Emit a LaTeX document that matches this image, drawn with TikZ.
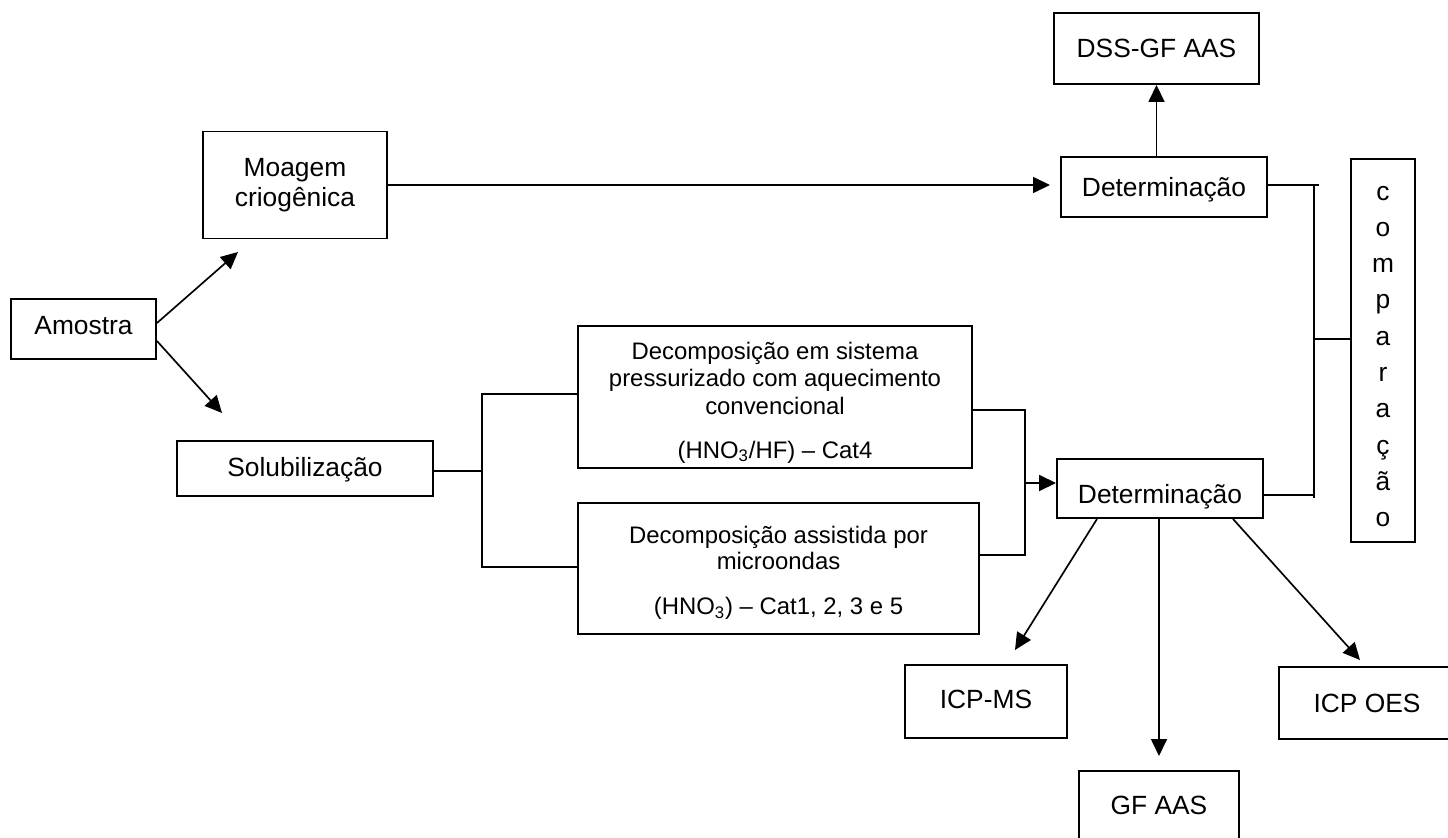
\documentclass[tikz,border=0pt]{standalone}
\usepackage{fontspec}
\setmainfont{Liberation Sans}
\usetikzlibrary{arrows.meta,calc}
\def\pxu{0.02cm}
\tikzset{
  frame/.style={draw, line width=1.1pt, inner sep=0pt},
  lbl/.style={frame, font=\fontsize{15}{17.1}\selectfont, text height=10.74pt, text depth=0pt},
  small/.style={inner sep=0pt, align=center},
  arr/.style={-{Triangle[length=0.34cm,width=0.32cm]}},
  wire/.style={line width=0.95pt}
}
\begin{document}
\begin{tikzpicture}[x=0.02cm, y=-0.02cm, wire]
\useasboundingbox (0,0) rectangle (1448,838);
\clip (0,0) rectangle (1448,838);

% boxes
\node[lbl, minimum width=145*\pxu, minimum height=60*\pxu, text depth=7*\pxu] (amostra) at (83.5,329) {Amostra};
\node[frame, font=\fontsize{15}{17.1}\selectfont, align=center, minimum width=184*\pxu, minimum height=107*\pxu] (moagem) at (295,185) {Moagem\\criogênica};
\node[lbl, minimum width=256*\pxu, minimum height=55*\pxu, text depth=3*\pxu] (sol) at (305,468.5) {Solubilização};

\node[frame, minimum width=394*\pxu, minimum height=142*\pxu] (d1) at (775,397) {};
\node[small, font=\fontsize{13.6}{15.65}\selectfont] (d1t) at (775,402.5)
  {Decomposição em sistema\\pressurizado com aquecimento\\convencional\\[9.4pt](HNO\textsubscript{3}/HF) – Cat4};
\node[frame, minimum width=401*\pxu, minimum height=131*\pxu] (d2) at (778.5,568.5) {};
\node[small, font=\fontsize{13.6}{14.8}\selectfont] (d2t) at (778.5,573)
  {Decomposição assistida por\\microondas\\[10.8pt](HNO\textsubscript{3}) – Cat1, 2, 3 e 5};

\node[lbl, minimum width=206*\pxu, minimum height=60*\pxu] (det1) at (1164,187) {Determinação};
\node[lbl, minimum width=205*\pxu, minimum height=71*\pxu] (dss) at (1156.5,48.5) {DSS-GF AAS};
\node[lbl, minimum width=206*\pxu, minimum height=59*\pxu, text height=17pt] (det2) at (1160,488.5) {Determinação};

\node[frame, minimum width=64*\pxu, minimum height=383*\pxu] (comp) at (1383,350.5) {};
\node[small, font=\fontsize{15}{20.67}\selectfont] (compt) at (1383,356.5)
  {c\\o\\m\\p\\a\\r\\a\\ç\\ã\\o};

\node[lbl, minimum width=162*\pxu, minimum height=73*\pxu, text depth=4*\pxu] (icpms) at (986,701.5) {ICP-MS};
\node[lbl, minimum width=160*\pxu, minimum height=69*\pxu] (gf) at (1159,805.5) {GF AAS};
\node[lbl, minimum width=176*\pxu, minimum height=72*\pxu] (icpoes) at (1367,703) {ICP OES};

% free ends and bracket corners
\coordinate (tipM) at (238,252);
\coordinate (tipS) at (222,413);
\coordinate (tipD) at (1050,185);
\coordinate (lbTop) at (482,394);
\coordinate (lbBot) at (482,567);
\coordinate (mbTop) at (1025,410);
\coordinate (mbBot) at (1025,555);
\coordinate (mbMid) at (1025,483);
\coordinate (rbTop) at (1314,185);
\coordinate (rbBot) at (1314,498);
\coordinate (rbMid) at (1314,339);
\coordinate (tipMS) at (1015,650);
\coordinate (tipGF) at (1159,756);
\coordinate (tipOES) at (1360,660);

% connectors
\draw[arr] ($(amostra.east)+(0,-6)$) -- (tipM);
\draw[arr] ($(amostra.east)+(0,12)$) -- (tipS);
\draw[arr] (moagem.east) -- (tipD);
\draw[arr] (det1.north -| dss.south) -- (dss.south);

\draw ($(sol.east)+(0,2.5)$) -- ++(49,0);
\draw (lbTop -| d1.west) -- (lbTop) -- (lbBot) -- (lbBot -| d2.west);

\draw ($(d1.east)+(0,13)$) -- (mbTop) -- (mbBot) -- ($(d2.east)+(0,-13.5)$);
\draw[arr] (mbMid) -- (mbMid -| det2.west);

\draw ($(det1.east)+(0,-2)$) -- ++(51,0);
\draw (rbTop) -- (rbBot);
\draw ($(det2.east)+(0,6.5)$) -- ++(51,0);
\draw (rbMid) -- (rbMid -| comp.west);

\draw[arr] ($(det2.south)+(-63,0)$) -- (tipMS);
\draw[arr] (det2.south -| tipGF) -- (tipGF);
\draw[arr] ($(det2.south)+(73,0)$) -- (tipOES);
\end{tikzpicture}
\end{document}
